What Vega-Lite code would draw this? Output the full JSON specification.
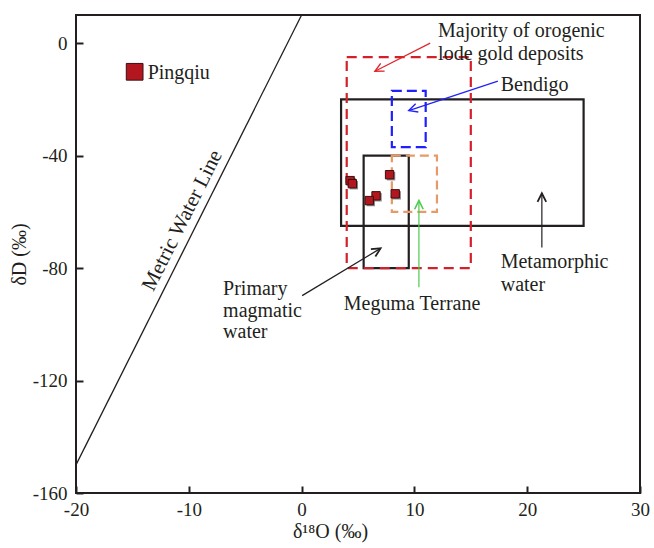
{
  "$schema": "https://vega.github.io/schema/vega-lite/v6.json",
  "width": 564,
  "height": 478,
  "autosize": {"type": "none"},
  "padding": {"left": 76, "top": 15, "right": 14, "bottom": 55},
  "background": "white",
  "config": {
    "view": {"stroke": "#231f20", "strokeWidth": 2},
    "font": "Liberation Serif",
    "axis": {
      "grid": false,
      "domain": false,
      "tickColor": "#231f20",
      "tickWidth": 2,
      "tickSize": -7,
      "labelFlush": false,
      "labelFont": "Liberation Serif",
      "labelFontSize": 19,
      "labelColor": "#231f20",
      "labelExpr": "replace(datum.label, '−', '-')",
      "titleFont": "Liberation Serif",
      "titleFontSize": 20,
      "titleFontWeight": "normal",
      "titleColor": "#231f20"
    }
  },
  "datasets": {
    "mwl": [{"o": -20, "d": -150}, {"o": 0, "d": 10}],
    "boxes": [
      {"name": "Metamorphic water", "o1": 3.5, "o2": 25, "d1": -20, "d2": -65},
      {"name": "Primary magmatic water", "o1": 5.5, "o2": 9.5, "d1": -40, "d2": -80},
      {"name": "Meguma Terrane", "o1": 8, "o2": 12, "d1": -40, "d2": -60},
      {"name": "Bendigo", "o1": 8, "o2": 11, "d1": -17, "d2": -37},
      {"name": "Orogenic lode gold", "o1": 4, "o2": 15, "d1": -5, "d2": -80}
    ],
    "samples": [
      {"o": 4.3, "d": -48.9},
      {"o": 4.5, "d": -50.0},
      {"o": 7.8, "d": -46.8},
      {"o": 6.6, "d": -54.3},
      {"o": 6.0, "d": -56.0},
      {"o": 8.3, "d": -53.6}
    ],
    "legend": [{"o": -14.8, "d": -10.2, "label": "Pingqiu"}],
    "arrows": [
      {"id": "orogenic", "o1": 11.4, "d1": 0.0, "o2": 6.5, "d2": -10.0},
      {"id": "bendigo", "o1": 17.4, "d1": -13.5, "o2": 9.5, "d2": -24.0},
      {"id": "metamorphic", "o1": 21.3, "d1": -72.7, "o2": 21.3, "d2": -53.4},
      {"id": "magmatic", "o1": 0.05, "d1": -89.8, "o2": 7.0, "d2": -73.0},
      {"id": "meguma", "o1": 10.4, "d1": -86.8, "o2": 10.4, "d2": -56.0}
    ],
    "labels": [
      {"label": "Majority of orogenic", "o": 12.1, "d": 2.1},
      {"label": "lode gold deposits", "o": 12.1, "d": -5.9},
      {"label": "Bendigo", "o": 17.65, "d": -17.1},
      {"label": "Metamorphic", "o": 17.65, "d": -79.9},
      {"label": "water", "o": 17.65, "d": -88.0},
      {"label": "Primary", "o": -6.96, "d": -89.5},
      {"label": "magmatic", "o": -6.96, "d": -97.3},
      {"label": "water", "o": -6.96, "d": -104.8},
      {"label": "Meguma Terrane", "o": 3.74, "d": -94.9},
      {"label": "Pingqiu", "o": -13.65, "d": -12.9}
    ],
    "mwlLabel": [{"label": "Metric Water Line", "o": -10.56, "d": -63.1}]
  },
  "encoding": {
    "x": {
      "type": "quantitative",
      "scale": {"domain": [-20, 30], "nice": false, "zero": false},
      "axis": {"values": [-20, -10, 0, 10, 20, 30], "title": "δ¹⁸O (‰)", "labelPadding": 14, "titlePadding": 2, "titleX": 254}
    },
    "y": {
      "type": "quantitative",
      "scale": {"domain": [-160, 10], "nice": false, "zero": false},
      "axis": {"values": [-160, -120, -80, -40, 0], "title": "δD (‰)", "labelPadding": 16, "titlePadding": 3}
    }
  },
  "layer": [
    {
      "data": {"name": "mwl"},
      "mark": {"type": "line", "color": "#231f20", "strokeWidth": 1.3},
      "encoding": {"x": {"field": "o", "type": "quantitative"}, "y": {"field": "d", "type": "quantitative"}}
    },
    {
      "data": {"name": "boxes"},
      "transform": [{"filter": "datum.name === 'Metamorphic water' || datum.name === 'Primary magmatic water'"}],
      "mark": {"type": "rect", "filled": false, "strokeWidth": 2.2, "color": "#231f20"},
      "encoding": {"x": {"field": "o1", "type": "quantitative"}, "x2": {"field": "o2"}, "y": {"field": "d1", "type": "quantitative"}, "y2": {"field": "d2"}}
    },
    {
      "data": {"name": "boxes"},
      "transform": [{"filter": "datum.name === 'Meguma Terrane'"}],
      "mark": {"type": "rect", "filled": false, "strokeWidth": 2.2, "color": "#e59a68", "strokeDash": [9, 5]},
      "encoding": {"x": {"field": "o1", "type": "quantitative"}, "x2": {"field": "o2"}, "y": {"field": "d1", "type": "quantitative"}, "y2": {"field": "d2"}}
    },
    {
      "data": {"name": "boxes"},
      "transform": [{"filter": "datum.name === 'Bendigo'"}],
      "mark": {"type": "rect", "filled": false, "strokeWidth": 2.2, "color": "#1f1fff", "strokeDash": [10, 5]},
      "encoding": {"x": {"field": "o1", "type": "quantitative"}, "x2": {"field": "o2"}, "y": {"field": "d1", "type": "quantitative"}, "y2": {"field": "d2"}}
    },
    {
      "data": {"name": "boxes"},
      "transform": [{"filter": "datum.name === 'Orogenic lode gold'"}],
      "mark": {"type": "rect", "filled": false, "strokeWidth": 2.2, "color": "#d4202a", "strokeDash": [10, 6]},
      "encoding": {"x": {"field": "o1", "type": "quantitative"}, "x2": {"field": "o2"}, "y": {"field": "d1", "type": "quantitative"}, "y2": {"field": "d2"}}
    },
    {
      "data": {"name": "arrows"},
      "mark": {"type": "rule", "strokeWidth": 1.2},
      "encoding": {
        "x": {"field": "o1", "type": "quantitative"},
        "x2": {"field": "o2"},
        "y": {"field": "d1", "type": "quantitative"},
        "y2": {"field": "d2"},
        "stroke": {
          "field": "id", "type": "nominal", "legend": null,
          "scale": {
            "domain": ["orogenic", "bendigo", "metamorphic", "magmatic", "meguma"],
            "range": ["#e0262b", "#2020ff", "#231f20", "#231f20", "#4ccc4c"]
          }
        }
      }
    },
    {
      "data": {"name": "arrows"},
      "transform": [{"filter": "datum.id === 'orogenic'"}],
      "mark": {"type": "point", "shape": "M -0.5 1 L 0 0 L 0.5 1", "filled": false, "size": 300, "strokeWidth": 1.4, "color": "#e0262b", "angle": 243, "opacity": 1},
      "encoding": {"x": {"field": "o2", "type": "quantitative"}, "y": {"field": "d2", "type": "quantitative"}}
    },
    {
      "data": {"name": "arrows"},
      "transform": [{"filter": "datum.id === 'bendigo'"}],
      "mark": {"type": "point", "shape": "M -0.5 1 L 0 0 L 0.5 1", "filled": false, "size": 300, "strokeWidth": 1.4, "color": "#2020ff", "angle": 252, "opacity": 1},
      "encoding": {"x": {"field": "o2", "type": "quantitative"}, "y": {"field": "d2", "type": "quantitative"}}
    },
    {
      "data": {"name": "arrows"},
      "transform": [{"filter": "datum.id === 'metamorphic'"}],
      "mark": {"type": "point", "shape": "M -0.5 1 L 0 0 L 0.5 1", "filled": false, "size": 300, "strokeWidth": 1.8, "color": "#231f20", "angle": 0, "opacity": 1},
      "encoding": {"x": {"field": "o2", "type": "quantitative"}, "y": {"field": "d2", "type": "quantitative"}}
    },
    {
      "data": {"name": "arrows"},
      "transform": [{"filter": "datum.id === 'magmatic'"}],
      "mark": {"type": "point", "shape": "M -0.5 1 L 0 0 L 0.5 1", "filled": false, "size": 300, "strokeWidth": 1.8, "color": "#231f20", "angle": 59, "opacity": 1},
      "encoding": {"x": {"field": "o2", "type": "quantitative"}, "y": {"field": "d2", "type": "quantitative"}}
    },
    {
      "data": {"name": "arrows"},
      "transform": [{"filter": "datum.id === 'meguma'"}],
      "mark": {"type": "point", "shape": "M -0.5 1 L 0 0 L 0.5 1", "filled": false, "size": 300, "strokeWidth": 1.6, "color": "#4ccc4c", "angle": 0, "opacity": 1},
      "encoding": {"x": {"field": "o2", "type": "quantitative"}, "y": {"field": "d2", "type": "quantitative"}}
    },
    {
      "data": {"name": "samples"},
      "mark": {"type": "point", "shape": "square", "filled": true, "size": 70, "color": "#6b6b6b", "opacity": 0.8, "xOffset": 1.5, "yOffset": 1.5},
      "encoding": {"x": {"field": "o", "type": "quantitative"}, "y": {"field": "d", "type": "quantitative"}}
    },
    {
      "data": {"name": "samples"},
      "mark": {"type": "point", "shape": "square", "filled": true, "size": 70, "fill": "#b3161e", "stroke": "#3a1010", "strokeWidth": 1, "opacity": 1},
      "encoding": {"x": {"field": "o", "type": "quantitative"}, "y": {"field": "d", "type": "quantitative"}}
    },
    {
      "data": {"name": "legend"},
      "mark": {"type": "point", "shape": "square", "filled": true, "size": 280, "fill": "#b3161e", "stroke": "#3a1010", "strokeWidth": 1, "opacity": 1},
      "encoding": {"x": {"field": "o", "type": "quantitative"}, "y": {"field": "d", "type": "quantitative"}}
    },
    {
      "data": {"name": "labels"},
      "mark": {"type": "text", "align": "left", "baseline": "alphabetic", "font": "Liberation Serif", "fontSize": 20, "color": "#231f20"},
      "encoding": {"x": {"field": "o", "type": "quantitative"}, "y": {"field": "d", "type": "quantitative"}, "text": {"field": "label"}}
    },
    {
      "data": {"name": "mwlLabel"},
      "mark": {"type": "text", "align": "center", "baseline": "middle", "font": "Liberation Serif", "fontSize": 21, "color": "#231f20", "angle": -63.4},
      "encoding": {"x": {"field": "o", "type": "quantitative"}, "y": {"field": "d", "type": "quantitative"}, "text": {"field": "label"}}
    }
  ]
}
